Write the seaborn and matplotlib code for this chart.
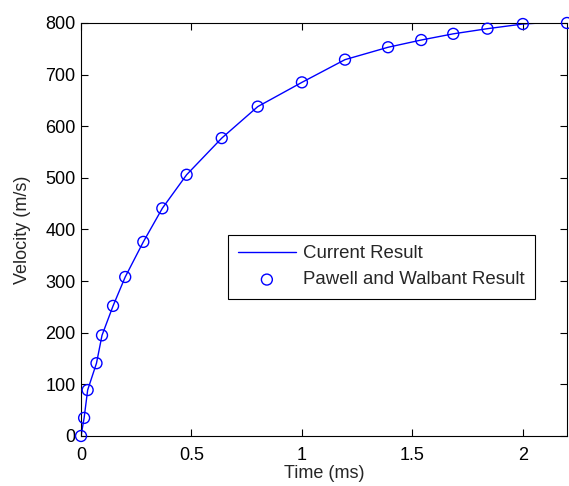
import numpy as np
import pandas as pd
import matplotlib
matplotlib.use("Agg")
import matplotlib.pyplot as plt
import seaborn as sns

# Data
time_pw = [0.0, 0.014, 0.03, 0.07, 0.095, 0.145, 0.2, 0.282, 0.368, 0.478,
           0.637, 0.80, 1.0, 1.195, 1.39, 1.54, 1.685, 1.84, 2.0, 2.2]
vel_pw = [0, 35, 89, 141, 195, 252, 308, 376, 441, 506,
          577, 638, 685, 729, 753, 767, 779, 789, 798, 800]

time_cur = [0.0, 0.014, 0.03, 0.07, 0.095, 0.145, 0.2, 0.282, 0.368, 0.478,
            0.637, 0.80, 1.0, 1.195, 1.39, 1.54, 1.685, 1.84, 2.0, 2.08, 2.2]
vel_cur = [0, 35, 89, 141, 195, 252, 308, 376, 441, 506,
           577, 638, 685, 729, 753, 767, 779, 789, 798, 800, 800]

sns.set_style("ticks")
plt.rcParams['font.family'] = ['Liberation Sans', 'DejaVu Sans']

fig = plt.figure(figsize=(5.69, 4.86), dpi=100)
ax = fig.add_axes([0.1424, 0.1029, 0.8541, 0.8498])

cur = pd.DataFrame({"t": time_cur, "v": vel_cur})
pw = pd.DataFrame({"t": time_pw, "v": vel_pw})

sns.lineplot(data=cur, x="t", y="v", color="blue", linewidth=1.0, ax=ax,
             label="Current Result")
sns.scatterplot(data=pw, x="t", y="v", marker="o", s=62, facecolors="none",
                edgecolor="blue", linewidth=1.0, ax=ax,
                label="Pawell and Walbant Result", clip_on=False, zorder=3)

ax.set_xlim(0, 2.2)
ax.set_ylim(0, 800)
ax.set_xticks([0, 0.5, 1, 1.5, 2])
ax.set_xticklabels(["0", "0.5", "1", "1.5", "2"])
ax.set_yticks(range(0, 801, 100))
ax.tick_params(direction="in", top=True, right=True, length=5, width=0.8,
               labelsize=13, colors="black", pad=4)
ax.tick_params(axis="x", pad=8)
for s in ax.spines.values():
    s.set_linewidth(0.8)
    s.set_color("black")

ax.set_xlabel("Time (ms)", fontsize=13, labelpad=1)
ax.set_ylabel("Velocity (m/s)", fontsize=13, labelpad=10)

leg = ax.legend(loc="upper left", bbox_to_anchor=(0.302, 0.487),
                fancybox=False, edgecolor="black", framealpha=1,
                fontsize=13.4, handlelength=3.1, borderpad=0.55,
                labelspacing=0.5, handletextpad=0.4, borderaxespad=0)
leg.get_frame().set_linewidth(0.8)

fig.savefig("out.png", dpi=100)
